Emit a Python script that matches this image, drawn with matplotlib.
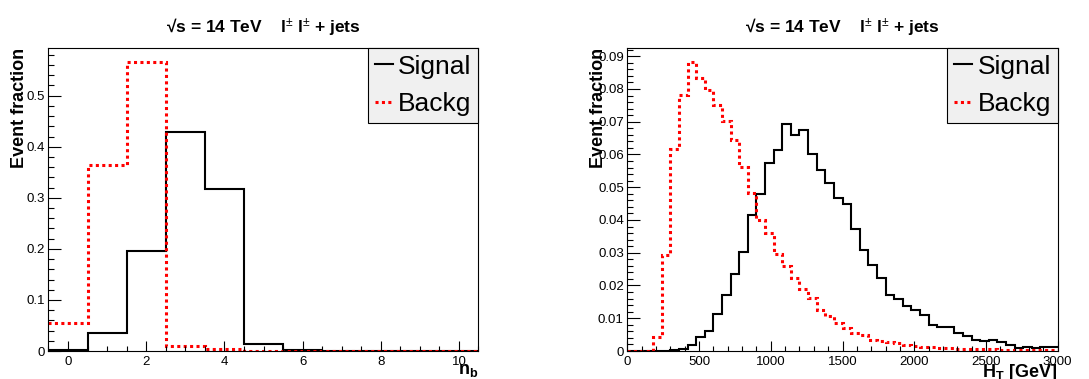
import numpy as np
import matplotlib
matplotlib.use("Agg")
import matplotlib.pyplot as plt
from matplotlib.lines import Line2D
from matplotlib.ticker import MultipleLocator, FormatStrFormatter

plt.rcParams['font.family'] = ['Liberation Sans', 'DejaVu Sans']
plt.rcParams['mathtext.fontset'] = 'custom'
plt.rcParams['mathtext.rm'] = 'Liberation Sans'
plt.rcParams['mathtext.it'] = 'Liberation Sans:italic'
plt.rcParams['mathtext.bf'] = 'Liberation Sans:bold'

# ---- data: number of b jets ----
nb_range = (-0.5, 10.5)
nb_signal = [0.0026, 0.036, 0.196, 0.429, 0.318, 0.013, 0.0013, 0.0002, 0.0, 0.0, 0.0]
nb_backg = [0.055, 0.364, 0.566, 0.0098, 0.0046, 0.0004, 0.0002, 0.0001, 0.0, 0.0, 0.0]

# ---- data: HT (60 GeV bins, 0-3000 GeV) ----
ht_range = (0, 3000)
ht_signal = [0, 0, 0, 0, 0.0001, 0.0002, 0.0006, 0.0018, 0.0044, 0.0060,
             0.0113, 0.0172, 0.0234, 0.0303, 0.0415, 0.0480, 0.0573, 0.0615, 0.0693, 0.0660,
             0.0676, 0.0602, 0.0552, 0.0514, 0.0467, 0.0448, 0.0371, 0.0308, 0.0264, 0.0223,
             0.0171, 0.0158, 0.0138, 0.0126, 0.0111, 0.0079, 0.0073, 0.0074, 0.0055, 0.0046,
             0.0033, 0.0030, 0.0034, 0.0029, 0.0019, 0.0009, 0.0011, 0.0009, 0.0012, 0.0011]
ht_backg = [0, 0, 0.0001, 0.0044, 0.0293, 0.0616, 0.0783, 0.0882, 0.0834, 0.0796,
            0.0750, 0.0702, 0.0645, 0.0563, 0.0483, 0.0400, 0.0361, 0.0296, 0.0258, 0.0224,
            0.0189, 0.0162, 0.0124, 0.0107, 0.0087, 0.0069, 0.0055, 0.0050, 0.0035, 0.0031,
            0.0028, 0.0024, 0.0017, 0.0015, 0.0012, 0.0011, 0.0010, 0.0009, 0.0007, 0.0007,
            0.0006, 0.0005, 0.0005, 0.0004, 0.0003, 0.0002, 0.0003, 0.0002, 0.0003, 0.0003]

title = "√s = 14 TeV    l$^{\\pm}$ l$^{\\pm}$ + jets"
labels = ["Signal", "Backg"]

fig = plt.figure(figsize=(10.89, 3.79), dpi=100)
W, H = 1089, 379

def make_axes(x0, x1, y0, y1):
    return fig.add_axes([x0 / W, 1 - y1 / H, (x1 - x0) / W, (y1 - y0) / H])

ax1 = make_axes(48.5, 478.5, 47.7, 351)
ax2 = make_axes(627.3, 1057.7, 47.7, 351)

red_style = dict(color='#ff0000', linewidth=2.2, linestyle=(0, (1, 1.1)))
black_style = dict(color='black', linewidth=1.5)

def draw(ax, sig, bkg, rng, ymax, xlabel, xmaj, xmin, ymaj, ymin, yfmt):
    nb = len(sig)
    edges = np.linspace(rng[0], rng[1], nb + 1)
    ax.stairs(sig, edges, baseline=None, **black_style)
    ax.stairs(bkg, edges, baseline=None, **red_style)
    ax.set_xlim(rng)
    ax.set_ylim(0, ymax)
    ax.xaxis.set_major_locator(MultipleLocator(xmaj))
    ax.xaxis.set_minor_locator(MultipleLocator(xmin))
    ax.yaxis.set_major_locator(MultipleLocator(ymaj))
    ax.yaxis.set_minor_locator(MultipleLocator(ymin))
    ax.yaxis.set_major_formatter(FormatStrFormatter(yfmt))
    ax.tick_params(which='both', direction='in', top=False, right=False,
                   labelsize=9.5, colors='black', width=0.8)
    ax.tick_params(axis='y', which='major', length=9, pad=2.5)
    ax.tick_params(axis='y', which='minor', length=4.5)
    ax.tick_params(axis='x', which='major', length=7, pad=3.5)
    ax.tick_params(axis='x', which='minor', length=3.5)
    for s in ax.spines.values():
        s.set_linewidth(0.8)
    ax.text(0.5, 1.068, title, transform=ax.transAxes, ha='center', va='center',
            fontsize=12.5, fontweight='bold')
    ax.text(-0.068, 1.0, "Event fraction", transform=ax.transAxes, rotation=90,
            ha='center', va='top', fontsize=13, fontweight='bold')
    ax.text(1.0, -0.035, xlabel, transform=ax.transAxes, ha='right', va='top',
            fontsize=13, fontweight='bold')
    handles = [Line2D([], [], **black_style), Line2D([], [], **red_style)]
    leg = ax.legend(handles, labels, loc='upper right', bbox_to_anchor=(1.0, 1.0),
                    borderaxespad=0, frameon=True, fancybox=False, framealpha=1,
                    facecolor='#f0f0f0', edgecolor='black', fontsize=19,
                    handlelength=0.7, handletextpad=0.2, borderpad=0.26,
                    labelspacing=0.5)
    leg.get_frame().set_linewidth(0.8)

draw(ax1, nb_signal, nb_backg, nb_range, 0.594, r"$\mathbf{n_b}$", 2, 0.5, 0.1, 0.02, '%g')
draw(ax2, ht_signal, ht_backg, ht_range, 0.0926, r"$\mathbf{H_T}$ [GeV]", 500, 100, 0.01, 0.002, '%g')

fig.savefig("out.png", dpi=100)
